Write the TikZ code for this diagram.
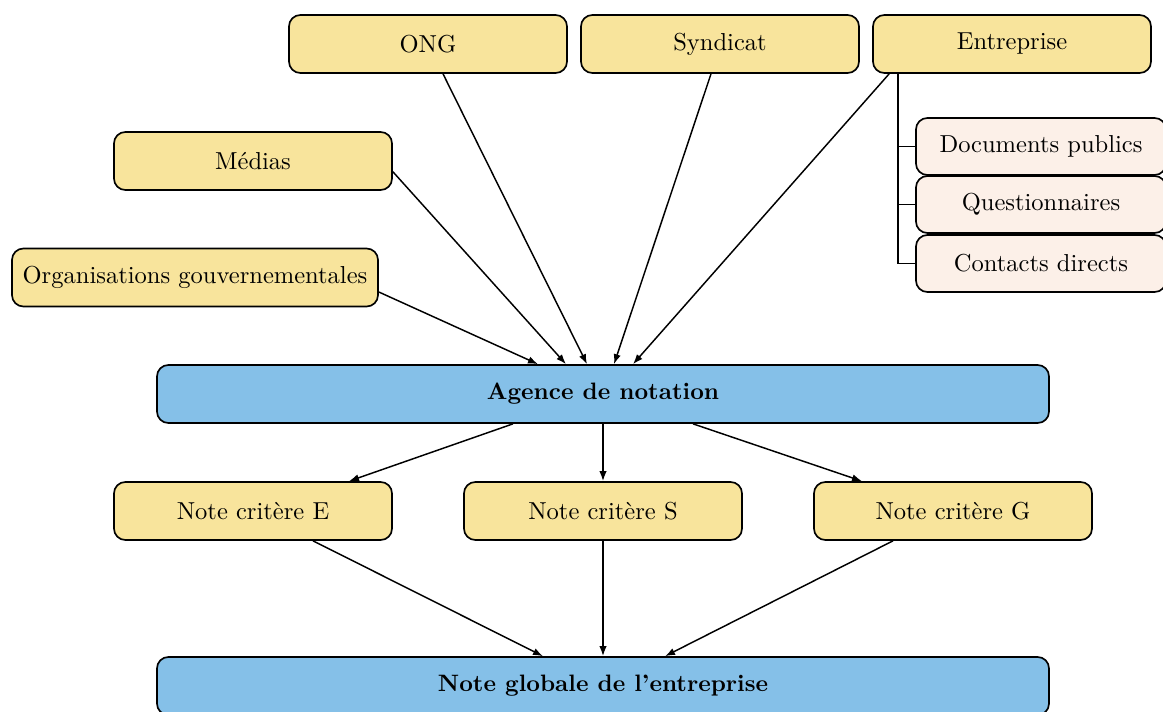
\documentclass[tikz,border=0pt]{standalone}
\usepackage{fontspec}
\setmainfont{lmroman10-regular.otf}[BoldFont=lmroman10-bold.otf]
\usetikzlibrary{arrows.meta}
\definecolor{boxyellow}{RGB}{248,228,156}
\definecolor{boxblue}{RGB}{133,192,232}
\definecolor{boxpink}{RGB}{252,240,232}
\begin{document}
\begin{tikzpicture}[x=0.75pt,y=-0.75pt,
  every node/.style={font=\fontsize{18.4}{22}\selectfont},
  base/.style={draw=black, line width=1.25pt, rounded corners=8.5pt, inner sep=0pt, align=center},
  ybox/.style={base, fill=boxyellow, minimum width=208.5pt, minimum height=43.5pt},
  bbox/.style={base, fill=boxblue, minimum width=669pt, minimum height=43.5pt, font=\fontsize{17.8}{22}\selectfont\bfseries},
  pbox/.style={base, fill=boxpink, minimum width=187.5pt, minimum height=42.75pt},
  arr/.style={line width=1.1pt, -{Latex[length=7.5pt,width=5.5pt]}},
  ln/.style={line width=1.1pt}]
\useasboundingbox (0,0) rectangle (1163,711);

\node[ybox] (ong) at (428,44) {ONG};
\node[ybox] (syn) at (720,44) {Syndicat};
\node[ybox] (ent) at (1012,44) {Entreprise};
\node[ybox] (med) at (253,161) {Médias};
\node[ybox, minimum width=274.5pt] (org) at (195,277.5) {Organisations gouvernementales};

\node[pbox] (doc) at (1041,146.5) {Documents publics};
\node[pbox] (que) at (1041,204.5) {Questionnaires};
\node[pbox] (con) at (1041,263.5) {Contacts directs};

\node[bbox] (age) at (603,394) {Agence de notation};
\node[ybox] (ne) at (253,511) {Note critère E};
\node[ybox] (ns) at (603,511) {Note critère S};
\node[ybox] (ng) at (953,511) {Note critère G};
\node[bbox] (glo) at (603,686) {Note globale de l’entreprise};

% Entreprise tree
\coordinate (trunk) at ([xshift=19.5pt]ent.south west);
\draw[ln] (trunk) |- (doc.west);
\draw[ln] (trunk) |- (que.west);
\draw[ln] (trunk) |- (con.west);

% inputs to agency
\draw[arr] (org.east |- 0,292) -- ([xshift=-48.75pt]age.north);
\draw[arr] ([yshift=-8pt]med.east) -- ([xshift=-27.75pt]age.north);
\draw[arr] ([xshift=11.25pt]ong.south) -- ([xshift=-12pt]age.north);
\draw[arr] ([xshift=-6.75pt]syn.south) -- ([xshift=8.25pt]age.north);
\draw[arr] ([xshift=12.75pt]ent.south west) -- ([xshift=22.5pt]age.north);

% agency to notes
\draw[arr] ([xshift=-67.5pt]age.south) -- ([xshift=72pt]ne.north);
\draw[arr] (age.south) -- (ns.north);
\draw[arr] ([xshift=67.5pt]age.south) -- ([xshift=-68.25pt]ng.north);

% notes to global
\draw[arr] ([xshift=45pt]ne.south) -- ([xshift=-45pt]glo.north);
\draw[arr] (ns.south) -- (glo.north);
\draw[arr] ([xshift=-45pt]ng.south) -- ([xshift=46.5pt]glo.north);
\end{tikzpicture}
\end{document}
